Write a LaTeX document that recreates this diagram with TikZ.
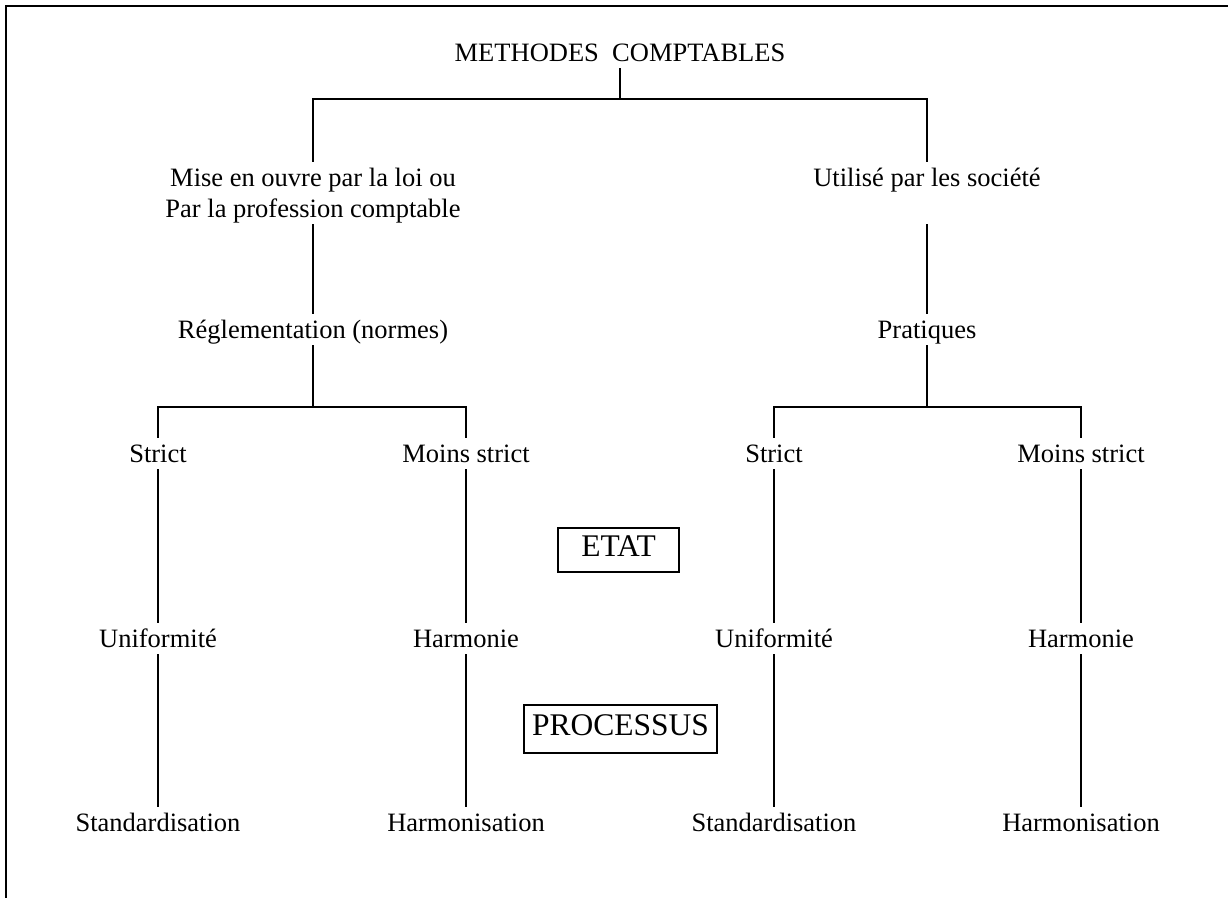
\documentclass[tikz,border=0pt]{standalone}
\usepackage{fontspec}
\setmainfont{Liberation Serif}
\begin{document}
\begin{tikzpicture}[x=0.5pt,y=-0.5pt,
  lbl/.style={anchor=base, font=\fontsize{13.25}{15.5}\selectfont,
    text height=10.5pt, text depth=1pt, inner xsep=2pt, inner ysep=2pt},
  tallbox/.style={draw, line width=0.8pt, font=\fontsize{15.75}{18}\selectfont,
    text height=11pt, text depth=4pt, inner xsep=0pt},
  link/.style={line width=1pt}]
\useasboundingbox (0,0) rectangle (1228,898);

% frame
\draw[line width=1.1pt] (6,898) -- (6,6) -- (1228,6);

% labels
\node[lbl] (root) at (620,62) {METHODES~ COMPTABLES};
\node[lbl] (mise) at (313,187) {Mise en ouvre par la loi ou};
\node[lbl] (misep) at (313,218) {Par la profession comptable};
\node[lbl, text depth=16.5pt] (util) at (927,187) {Utilisé par les société};
\node[lbl] (regl) at (313,339) {Réglementation (normes)};
\node[lbl] (prat) at (927,339) {Pratiques};
\node[lbl] (s1) at (158,463) {Strict};
\node[lbl] (m1) at (466,463) {Moins strict};
\node[lbl] (s2) at (774,463) {Strict};
\node[lbl] (m2) at (1081,463) {Moins strict};
\node[lbl] (u1) at (158,648) {Uniformité};
\node[lbl] (h1) at (466,648) {Harmonie};
\node[lbl] (u2) at (774,648) {Uniformité};
\node[lbl] (h2) at (1081,648) {Harmonie};
\node[lbl] (st1) at (158,832) {Standardisation};
\node[lbl] (hs1) at (466,832) {Harmonisation};
\node[lbl] (st2) at (774,832) {Standardisation};
\node[lbl] (hs2) at (1081,832) {Harmonisation};

\node[tallbox, minimum width=60.5pt, inner ysep=3.5pt] (etat) at (618.5,550) {ETAT};
\node[tallbox, minimum width=96.5pt, inner ysep=4.5pt] (proc) at (620.5,729) {PROCESSUS};

% branching points
\coordinate (j0) at (620,99);
\coordinate (jl) at (313,99);
\coordinate (jr) at (927,99);
\coordinate (kl) at (313,407);
\coordinate (kr) at (927,407);

% connectors
\draw[link] (root.south) -- (j0);
\draw[link] (mise.north) -- (jl) -- (jr) -- (util.north);
\draw[link] (misep.south) -- (regl.north);
\draw[link] (util.south) -- (prat.north);
\draw[link] (regl.south) -- (kl);
\draw[link] (prat.south) -- (kr);
\draw[link] (s1.north) |- (kl) -| (m1.north);
\draw[link] (s2.north) |- (kr) -| (m2.north);
\foreach \a/\b/\c in {s1/u1/st1, m1/h1/hs1, s2/u2/st2, m2/h2/hs2}{
  \draw[link] (\a.south) -- (\b.north);
  \draw[link] (\b.south) -- (\c.north);
}
\end{tikzpicture}
\end{document}
